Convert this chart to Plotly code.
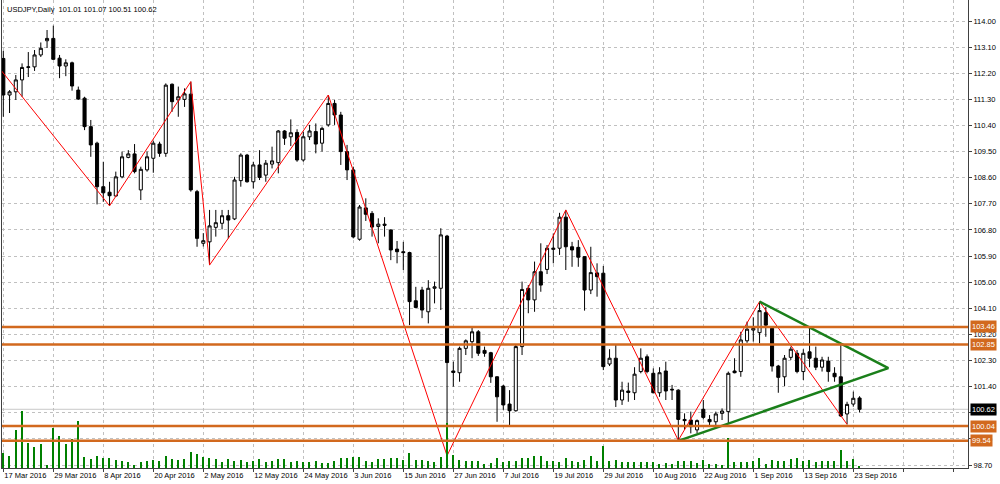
import numpy as np
import pandas as pd
import plotly.graph_objects as go

# ---------------- data (USDJPY, Daily) ----------------
symbol = "USDJPY"
period = "Daily"
dates = pd.bdate_range("2016-03-17", "2016-09-26")

opens = [112.71, 111.45, 111.56, 111.97, 112.40, 112.42, 112.83, 113.32, 113.40, 112.72,
         112.45, 112.56, 111.62, 111.34, 110.36, 109.79, 108.29, 108.10, 107.97, 108.63,
         109.30, 109.42, 108.18, 108.87, 109.27, 109.76, 109.44, 111.82, 111.28, 111.30,
         111.48, 108.12, 106.34, 106.39, 106.89, 107.03, 107.29, 107.18, 108.50, 109.38,
         108.46, 109.04, 108.69, 109.07, 109.12, 110.21, 110.01, 110.16, 109.21, 110.01,
         110.19, 109.79, 110.42, 111.16, 110.76, 109.50, 108.87, 106.48, 107.56, 107.37,
         106.92, 107.00, 106.80, 106.14, 106.05, 106.02, 104.36, 104.73, 103.98, 104.79,
         104.79, 106.59, 101.94, 101.88, 102.72, 102.95, 103.29, 102.65, 102.57, 101.74,
         101.42, 100.80, 100.57, 102.78, 104.79, 104.39, 105.36, 105.44, 106.13, 106.17,
         107.24, 106.22, 106.20, 105.88, 104.73, 105.32, 105.31, 102.18, 102.38, 100.94,
         101.25, 101.19, 101.92, 102.43, 101.86, 101.19, 101.94, 101.31, 101.28, 100.27,
         100.25, 99.91, 100.62, 100.27, 100.19, 100.48, 100.54, 101.94, 101.92, 102.98,
         103.35, 103.26, 103.95, 103.41, 102.11, 101.74, 102.41, 102.55, 101.92, 102.60,
         102.38, 102.07, 102.28, 101.86, 101.74, 100.46, 100.80, 101.01]
highs = [112.97, 111.62, 112.14, 112.54, 112.93, 113.00, 113.26, 113.69, 113.84, 112.83,
         112.68, 112.60, 111.74, 111.39, 110.59, 109.84, 109.15, 108.46, 108.81, 109.50,
         109.55, 109.76, 108.98, 109.50, 109.87, 109.84, 111.85, 111.85, 111.74, 111.68,
         111.91, 108.18, 106.69, 107.49, 107.49, 107.49, 107.49, 108.63, 109.44, 109.42,
         109.15, 109.55, 109.21, 109.67, 110.24, 110.24, 110.61, 110.27, 110.19, 110.42,
         110.47, 110.36, 111.45, 111.28, 110.87, 109.73, 108.98, 107.66, 107.89, 107.45,
         107.20, 107.24, 106.82, 106.42, 106.39, 106.05, 104.84, 104.84, 105.07, 105.02,
         106.86, 106.63, 102.26, 102.78, 103.03, 103.43, 103.35, 102.78, 102.60, 101.76,
         101.46, 101.28, 102.84, 105.02, 104.90, 105.71, 106.34, 106.28, 106.68, 107.39,
         107.49, 106.39, 106.45, 105.90, 106.22, 105.65, 105.56, 102.69, 102.84, 101.57,
         101.54, 102.07, 102.72, 102.51, 102.03, 102.07, 102.26, 101.46, 101.31, 100.48,
         100.54, 100.27, 100.94, 100.42, 100.54, 100.65, 101.92, 102.38, 103.29, 103.64,
         103.79, 104.33, 104.15, 103.45, 102.15, 102.49, 102.78, 102.66, 102.69, 103.47,
         102.78, 102.43, 102.43, 102.07, 102.89, 100.88, 101.23, 101.07]
lows = [110.70, 110.83, 111.28, 111.39, 112.07, 112.28, 112.76, 113.07, 112.66, 112.03,
        112.10, 111.60, 111.28, 110.24, 109.32, 107.68, 107.77, 107.63, 107.95, 108.58,
        109.27, 108.75, 107.83, 108.81, 108.77, 109.32, 109.32, 110.87, 110.70, 111.04,
        108.12, 106.22, 106.23, 105.59, 106.57, 106.82, 106.51, 107.14, 108.29, 108.43,
        108.23, 108.52, 108.46, 108.92, 108.75, 109.73, 109.69, 109.15, 109.15, 109.90,
        109.44, 109.50, 110.36, 110.42, 109.04, 108.52, 106.51, 106.43, 107.11, 106.57,
        106.34, 106.57, 105.76, 105.65, 105.42, 103.52, 104.10, 103.76, 103.58, 104.27,
        104.04, 99.02, 101.40, 101.57, 102.49, 102.38, 102.46, 102.43, 101.53, 100.19,
        100.60, 100.02, 100.54, 102.49, 103.93, 103.98, 104.67, 105.28, 105.65, 105.94,
        105.42, 105.53, 105.53, 104.02, 104.59, 104.50, 101.97, 102.11, 100.70, 100.77,
        100.88, 100.94, 101.86, 101.86, 101.17, 101.05, 100.94, 100.94, 99.55, 99.91,
        99.79, 99.79, 100.27, 100.02, 100.02, 100.25, 100.14, 101.86, 101.74, 102.91,
        102.95, 102.89, 103.12, 101.92, 101.19, 101.42, 102.32, 101.86, 101.63, 102.07,
        101.97, 101.92, 101.57, 101.57, 100.36, 100.10, 100.71, 100.51]
closes = [111.45, 111.56, 111.97, 112.40, 112.42, 112.83, 113.06, 113.40, 112.68, 112.45,
          112.56, 111.76, 111.31, 110.36, 109.73, 108.29, 108.08, 107.98, 108.63, 109.32,
          109.42, 108.81, 108.89, 109.32, 109.79, 109.44, 111.79, 111.22, 111.39, 111.49,
          108.18, 106.51, 106.43, 106.94, 107.05, 107.29, 107.14, 108.52, 109.38, 108.46,
          109.04, 108.61, 109.10, 109.18, 110.21, 109.96, 110.15, 109.21, 110.01, 110.21,
          109.76, 110.30, 111.16, 110.76, 109.50, 108.87, 106.56, 107.59, 107.34, 106.90,
          107.00, 106.96, 106.11, 106.05, 106.02, 104.33, 104.13, 104.04, 104.79, 104.84,
          106.63, 102.23, 101.89, 102.72, 102.98, 103.29, 102.55, 102.55, 101.74, 101.05,
          100.77, 100.57, 102.78, 104.75, 104.39, 105.36, 104.90, 106.17, 106.17, 107.24,
          106.22, 106.11, 105.86, 104.73, 105.33, 105.19, 102.09, 102.38, 100.94, 101.28,
          101.20, 101.83, 102.38, 101.92, 101.19, 101.88, 101.25, 101.29, 100.27, 100.23,
          100.02, 100.23, 100.34, 100.19, 100.46, 100.56, 101.86, 101.88, 103.01, 103.38,
          103.41, 104.02, 103.52, 102.11, 101.72, 102.38, 102.69, 101.92, 102.55, 102.38,
          102.07, 102.32, 101.92, 101.74, 100.39, 100.79, 101.00, 100.62]
volumes = [30, 25, 77, 115, 51, 43, 49, 7, 80, 65,
           49, 59, 95, 22, 19, 25, 20, 21, 17, 15,
           12, 7, 13, 15, 16, 15, 25, 19, 17, 18,
           33, 29, 23, 21, 19, 13, 18, 15, 16, 13,
           15, 18, 12, 15, 18, 18, 13, 15, 12, 12,
           15, 11, 10, 15, 20, 20, 23, 22, 15, 13,
           19, 19, 21, 20, 17, 31, 17, 16, 15, 12,
           23, 90, 27, 17, 15, 15, 15, 8, 10, 20,
           12, 15, 15, 21, 21, 25, 25, 15, 15, 13,
           21, 15, 12, 17, 25, 15, 45, 15, 17, 13,
           13, 13, 12, 12, 13, 8, 10, 8, 15, 15,
           15, 10, 17, 9, 9, 7, 60, 12, 12, 13,
           15, 20, 9, 17, 15, 15, 19, 21, 15, 17,
           13, 15, 15, 15, 37, 15, 19, 5]

# ZigZag turning points
zz_dates = ["2016-03-10", "2016-04-11", "2016-04-28", "2016-05-03", "2016-05-30",
            "2016-06-24", "2016-07-21", "2016-08-16", "2016-09-02", "2016-09-22"]
zz_prices = [113.55, 107.63, 111.91, 105.59, 111.45, 99.02, 107.49, 99.55, 104.33, 100.10]

# Triangle (bar number counted from 17 Mar 2016): lower line -> apex -> upper line
tri_bars = [108, 141.6, 121]
tri_prices = [99.53, 102.04, 104.33]

# Horizontal levels
levels = [103.46, 102.85, 100.04, 99.54]

# Axis labels
x_tick_labels = ["17 Mar 2016", "29 Mar 2016", "8 Apr 2016", "20 Apr 2016", "2 May 2016",
                 "12 May 2016", "24 May 2016", "3 Jun 2016", "15 Jun 2016", "27 Jun 2016",
                 "7 Jul 2016", "19 Jul 2016", "29 Jul 2016", "10 Aug 2016", "22 Aug 2016",
                 "1 Sep 2016", "13 Sep 2016", "23 Sep 2016", "", ""]
y_ticks = [114.00, 113.10, 112.20, 111.30, 110.40, 109.50, 108.60, 107.70, 106.80, 105.90,
           105.00, 104.10, 103.20, 102.30, 101.40, 100.50, 99.60, 98.70]

assert len(dates) == len(opens) == len(highs) == len(lows) == len(closes) == len(volumes)

# ---------------- figure ----------------
start = np.datetime64(dates[0].date())
x = np.arange(len(dates))
zz_x = [int(np.busday_count(start, np.datetime64(d))) for d in zz_dates]
x_tickvals = list(range(0, 8 * len(x_tick_labels), 8))

FONT = "Liberation Sans, Arial, sans-serif"
ORANGE = "#D2691E"

fig = go.Figure()
fig.add_trace(go.Bar(x=x, y=volumes, yaxis="y2", width=0.22,
                     marker=dict(color="#008000", line=dict(width=0)), hoverinfo="skip"))
fig.add_trace(go.Candlestick(
    x=x, open=opens, high=highs, low=lows, close=closes,
    increasing=dict(line=dict(color="black", width=1), fillcolor="white"),
    decreasing=dict(line=dict(color="black", width=1), fillcolor="black"),
    whiskerwidth=0))
fig.add_trace(go.Scatter(x=zz_x, y=zz_prices, mode="lines",
                         line=dict(color="#FF0000", width=1), hoverinfo="skip"))
fig.add_trace(go.Scatter(x=tri_bars, y=tri_prices, mode="lines",
                         line=dict(color="#1A7F1A", width=2.5), hoverinfo="skip"))

shapes = [dict(type="line", xref="paper", x0=0, x1=1, yref="y", y0=closes[-1], y1=closes[-1],
               line=dict(color="#C8C8C8", width=1), layer="below")]
for lv in levels:
    shapes.append(dict(type="line", xref="paper", x0=0, x1=1, yref="y", y0=lv, y1=lv,
                       line=dict(color=ORANGE, width=2.5), layer="above"))

annotations = [dict(xref="paper", yref="paper", x=0, y=1, xanchor="left", yanchor="top",
                    xshift=3, yshift=-3, showarrow=False,
                    text=f"{symbol},{period}\u00a0\u00a0{opens[-1]:.2f} {highs[-1]:.2f} {lows[-1]:.2f} {closes[-1]:.2f}",
                    font=dict(family=FONT, size=7.5, color="black"))]
for lv in levels:
    annotations.append(dict(xref="paper", yref="y", x=1, y=lv, xanchor="left", yanchor="middle",
                            xshift=2, showarrow=False, text=f"{lv:.2f}", bgcolor=ORANGE, borderpad=1,
                            font=dict(family=FONT, size=7.5, color="white")))
annotations.append(dict(xref="paper", yref="y", x=1, y=closes[-1], xanchor="left", yanchor="middle",
                        xshift=2, showarrow=False, text=f"{closes[-1]:.2f}", bgcolor="black", borderpad=1,
                        font=dict(family=FONT, size=7.5, color="white")))

fig.update_layout(
    width=1000, height=484, margin=dict(l=2, r=32, t=0, b=16, autoexpand=False),
    paper_bgcolor="white", plot_bgcolor="white", showlegend=False,
    font=dict(family=FONT, size=7.5, color="black"),
    xaxis=dict(range=[-0.21, 154.35], tickmode="array", tickvals=x_tickvals, ticktext=x_tick_labels,
               tickangle=0, automargin=False,
               showgrid=True, gridcolor="#C0C0C0", griddash="3px,3px", gridwidth=1,
               ticks="outside", ticklen=3, tickcolor="#404040",
               showline=True, linecolor="#404040", mirror=True, zeroline=False,
               ticklabelposition="outside right", rangeslider=dict(visible=False)),
    yaxis=dict(side="right", range=[98.597, 114.724], tickmode="array", tickvals=y_ticks,
               tickformat=".2f", automargin=False,
               showgrid=True, gridcolor="#C0C0C0", griddash="3px,3px",
               ticks="outside", ticklen=3, tickcolor="#404040",
               showline=True, linecolor="#404040", mirror=True, zeroline=False),
    yaxis2=dict(overlaying="y", range=[0, 936], visible=False),
    shapes=shapes, annotations=annotations, bargap=0,
)

fig.write_html("out.html", config={"displayModeBar": False},
               post_script="document.body.style.margin='0';document.body.style.overflow='hidden';")
